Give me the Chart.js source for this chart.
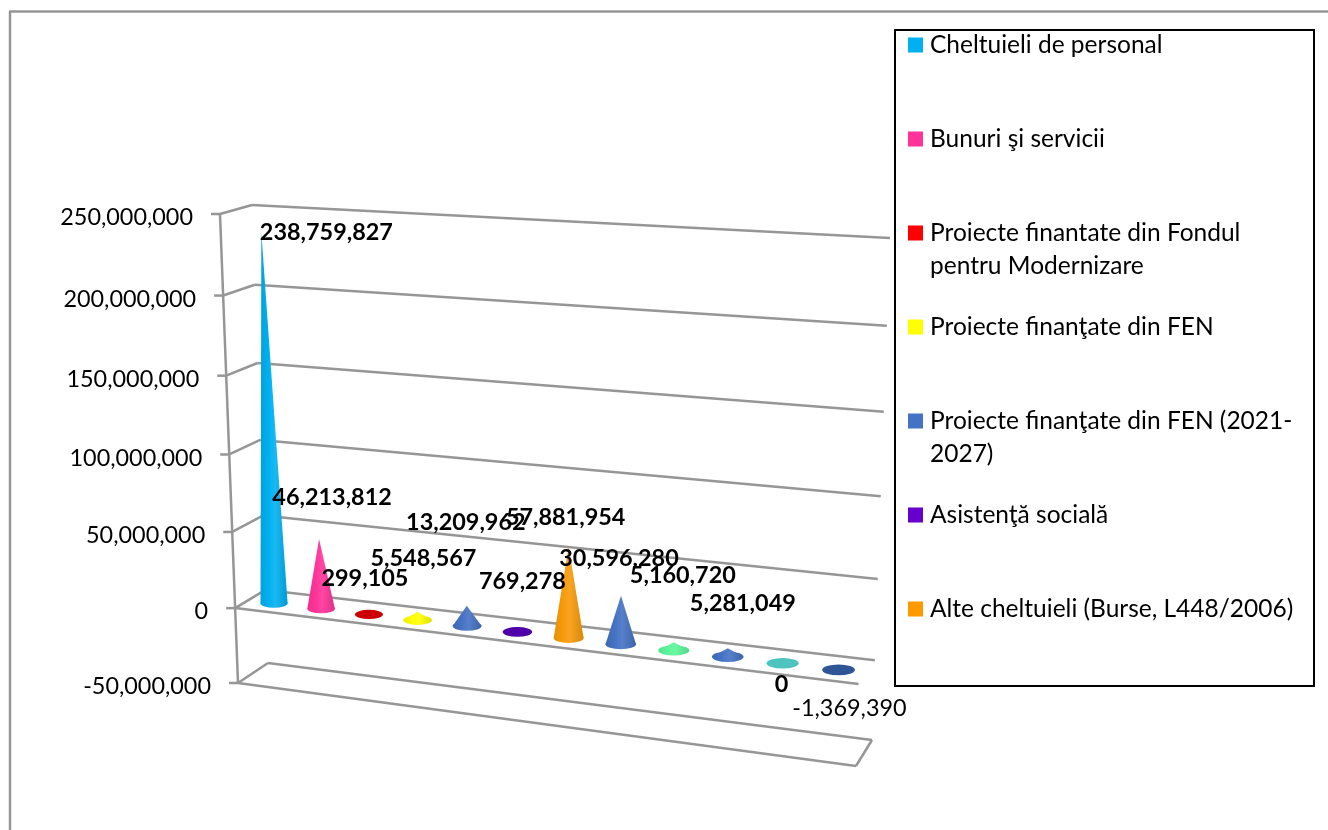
<!DOCTYPE html>
<html>
<head>
<meta charset="utf-8">
<title>Cheltuieli</title>
<script src="https://cdn.jsdelivr.net/npm/chart.js@4/dist/chart.umd.min.js"></script>
<style>
  html, body { margin: 0; padding: 0; background: #fff; }
  canvas { display: block; }
</style>
</head>
<body>
<canvas id="chart" width="1328" height="830"></canvas>
<script>
// data
const categories = [
  'Cheltuieli de personal',
  'Bunuri şi servicii',
  ['Proiecte finantate din Fondul', 'pentru Modernizare'],
  'Proiecte finanţate din FEN',
  ['Proiecte finanţate din FEN (2021-', '2027)'],
  'Asistenţă socială',
  'Alte cheltuieli (Burse, L448/2006)',
  '', '', '', '', '' // the legend box cuts these off in the picture
];
const values = [238759827, 46213812, 299105, 5548567, 13209962, 769278, 57881954, 30596280, 5160720, 5281049, 0, -1369390];
const tickValues = [250000000, 200000000, 150000000, 100000000, 50000000, 0, -50000000];

const swatchColors = ['#00B0F0', '#FF3399', '#FF0000', '#FFFF00', '#4472C4', '#6600CC', '#FF9900'];
const coneColors = ['#00B0F0', '#FF3399', '#CC0000', '#FFFF00', '#4472C4', '#5000A8', '#F79A0A', '#4472C4', '#5BF59A', '#4472C4', '#4EC4BF', '#2F5597'];

// labels were dragged by hand in the original, offset from the cone tip
const labelNudge = [[65, 0], [13, -41], [-4, -36], [6, -53], [-1, -83], [5, -49], [-3, -29], [-2, -37], [9, -67], [15, -45], [-1, 21], [11, 36]];

const FONT = 'Lato, Carlito, sans-serif';
const LINE = '#969696';

// corners of the 3D box planes on screen: top left, top right, bottom right, bottom left
const planes = {
  back: makeHomography([252, 205], [890, 238], [872, 740], [268, 663]),
  mid: makeHomography([236.5, 213], [882, 245], [864, 754], [253.5, 674]),
  front: makeHomography([220, 214], [872, 250], [856, 766], [238, 683])
};

function makeHomography(p0, p1, p2, p3) {
  var dx1 = p1[0] - p2[0], dx2 = p3[0] - p2[0], sx = p0[0] - p1[0] + p2[0] - p3[0];
  var dy1 = p1[1] - p2[1], dy2 = p3[1] - p2[1], sy = p0[1] - p1[1] + p2[1] - p3[1];
  var den = dx1 * dy2 - dx2 * dy1;
  var g = (sx * dy2 - dx2 * sy) / den;
  var h = (dx1 * sy - sx * dy1) / den;
  return {
    a: p1[0] - p0[0] + g * p1[0], b: p3[0] - p0[0] + h * p3[0], c: p0[0],
    d: p1[1] - p0[1] + g * p1[1], e: p3[1] - p0[1] + h * p3[1], f: p0[1],
    g: g, h: h
  };
}

// chart area pixel -> screen position on one of the planes
function project(chart, plane, px, py) {
  var area = chart.chartArea, m = planes[plane];
  var u = (px - area.left) / (area.right - area.left);
  var v = (py - area.top) / (area.bottom - area.top);
  var w = m.g * u + m.h * v + 1;
  return { x: (m.a * u + m.b * v + m.c) / w, y: (m.d * u + m.e * v + m.f) / w };
}

function shade(hex, k) {
  var n = parseInt(hex.slice(1), 16);
  var parts = [n >> 16, (n >> 8) & 255, n & 255].map(function (c) {
    return Math.min(255, Math.round(k > 1 ? c + (255 - c) * (k - 1) : c * k));
  });
  return 'rgb(' + parts.join(',') + ')';
}

function drawCone(chart, bar, color) {
  var ctx = chart.ctx;
  var left = project(chart, 'mid', bar.x - bar.width / 2, bar.base);
  var right = project(chart, 'mid', bar.x + bar.width / 2, bar.base);
  var tip = project(chart, 'mid', bar.x, bar.y);
  var cx = (left.x + right.x) / 2, cy = (left.y + right.y) / 2;
  var rx = (right.x - left.x) / 2, ry = rx * 0.33;

  var grad = ctx.createLinearGradient(left.x, 0, right.x, 0);
  grad.addColorStop(0, shade(color, 0.92));
  grad.addColorStop(0.3, shade(color, 1));
  grad.addColorStop(0.55, shade(color, 1.1));
  grad.addColorStop(1, shade(color, 0.88));

  ctx.save();
  // base stays flat, only the body of the cone gets the shine
  ctx.fillStyle = tip.y < cy - ry * 1.5 ? grad : color;
  ctx.beginPath();
  ctx.ellipse(cx, cy, rx, ry, 0, 0, Math.PI * 2);
  ctx.fill();
  if (tip.y < cy - ry) {
    ctx.fillStyle = grad;
    ctx.beginPath();
    ctx.moveTo(cx - rx, cy);
    ctx.lineTo(tip.x, tip.y);
    ctx.lineTo(cx + rx, cy);
    ctx.closePath();
    ctx.fill();
  }
  ctx.restore();
}

class ConeController extends Chart.BarController {
  draw() {
    var chart = this.chart, colors = this.getDataset().backgroundColor;
    this.getMeta().data.forEach(function (bar, i) {
      drawCone(chart, bar, colors[i]);
    });
  }
}
ConeController.id = 'cone';
ConeController.defaults = Chart.BarController.defaults;
Chart.register(ConeController);

function strokeLine(ctx, a, b) {
  ctx.beginPath();
  ctx.moveTo(a.x, a.y);
  ctx.lineTo(b.x, b.y);
  ctx.stroke();
}

// walls, floor and gridlines, all hung on the y scale's ticks
const boxPlugin = {
  id: 'box',
  beforeDatasetsDraw: function (chart) {
    var ctx = chart.ctx, area = chart.chartArea, yScale = chart.scales.y;
    ctx.save();
    ctx.strokeStyle = LINE;
    ctx.lineWidth = 2.5;

    // page frame of the source picture
    strokeLine(ctx, { x: 10, y: 830 }, { x: 10, y: 11.5 });
    strokeLine(ctx, { x: 9, y: 11.5 }, { x: 1328, y: 11.5 });

    yScale.ticks.forEach(function (tick) {
      var py = yScale.getPixelForValue(tick.value);
      var f = project(chart, 'front', area.left, py);
      strokeLine(ctx, { x: f.x - 9, y: f.y }, f);
      strokeLine(ctx, f, project(chart, 'back', area.left, py));
      strokeLine(ctx, project(chart, 'back', area.left, py), project(chart, 'back', area.right, py));
    });

    var top = project(chart, 'front', area.left, area.top);
    var bottomLeft = project(chart, 'front', area.left, area.bottom);
    var bottomRight = project(chart, 'front', area.right, area.bottom);
    var zero = yScale.getPixelForValue(0);
    strokeLine(ctx, top, bottomLeft);
    strokeLine(ctx, bottomLeft, bottomRight);
    strokeLine(ctx, bottomRight, project(chart, 'back', area.right, area.bottom));
    strokeLine(ctx, project(chart, 'front', area.left, zero), project(chart, 'front', area.right, zero));
    ctx.restore();
  },
  afterDatasetsDraw: function (chart) {
    var ctx = chart.ctx, area = chart.chartArea, yScale = chart.scales.y;
    ctx.save();
    ctx.textBaseline = 'middle';
    ctx.fillStyle = '#000';

    // y tick labels follow the slanted axis
    ctx.textAlign = 'right';
    ctx.font = '23.4px ' + FONT;
    yScale.ticks.forEach(function (tick) {
      var f = project(chart, 'front', area.left, yScale.getPixelForValue(tick.value));
      ctx.fillText(tick.label, f.x - 27, f.y + 3.5);
    });

    // data labels
    ctx.textAlign = 'center';
    chart.getDatasetMeta(0).data.forEach(function (bar, i) {
      var tip = project(chart, 'mid', bar.x, bar.y);
      ctx.font = (values[i] < 0 ? '' : 'bold ') + '23.4px ' + FONT;
      ctx.fillText(values[i].toLocaleString('en-US'), tip.x + labelNudge[i][0], tip.y + labelNudge[i][1]);
    });
    ctx.restore();
  }
};

// legend box with the rows the picture shows
const legendPlugin = {
  id: 'coneLegend',
  afterDraw: function (chart) {
    var ctx = chart.ctx;
    ctx.save();
    ctx.strokeStyle = '#000';
    ctx.lineWidth = 2;
    ctx.strokeRect(895, 30, 419, 656);
    ctx.font = '24.5px ' + FONT;
    ctx.textAlign = 'left';
    ctx.textBaseline = 'middle';
    categories.forEach(function (name, i) {
      if (!name.length) return;
      var y = 44 + i * 94;
      ctx.fillStyle = swatchColors[i];
      ctx.fillRect(908, y - 6.5, 15, 15);
      ctx.fillStyle = '#000';
      [].concat(name).forEach(function (line, n) {
        ctx.fillText(line, 930, y + 1 + n * 33);
      });
    });
    ctx.restore();
  }
};

new Chart(document.getElementById('chart').getContext('2d'), {
  type: 'cone',
  data: {
    labels: categories,
    datasets: [{
      data: values,
      backgroundColor: coneColors,
      barPercentage: 0.58,
      categoryPercentage: 1
    }]
  },
  options: {
    responsive: false,
    animation: false,
    layout: { padding: { left: 220, right: 440, top: 205, bottom: 60 } },
    plugins: {
      legend: { display: false },
      tooltip: { enabled: false }
    },
    scales: {
      x: { display: false },
      y: {
        min: -50000000,
        max: 250000000,
        afterBuildTicks: function (scale) {
          scale.ticks = tickValues.map(function (v) { return { value: v }; });
        },
        grid: { display: false },
        border: { display: false },
        ticks: {
          display: false,
          callback: function (v) { return v.toLocaleString('en-US'); }
        }
      }
    }
  },
  plugins: [boxPlugin, legendPlugin]
});
</script>
</body>
</html>
